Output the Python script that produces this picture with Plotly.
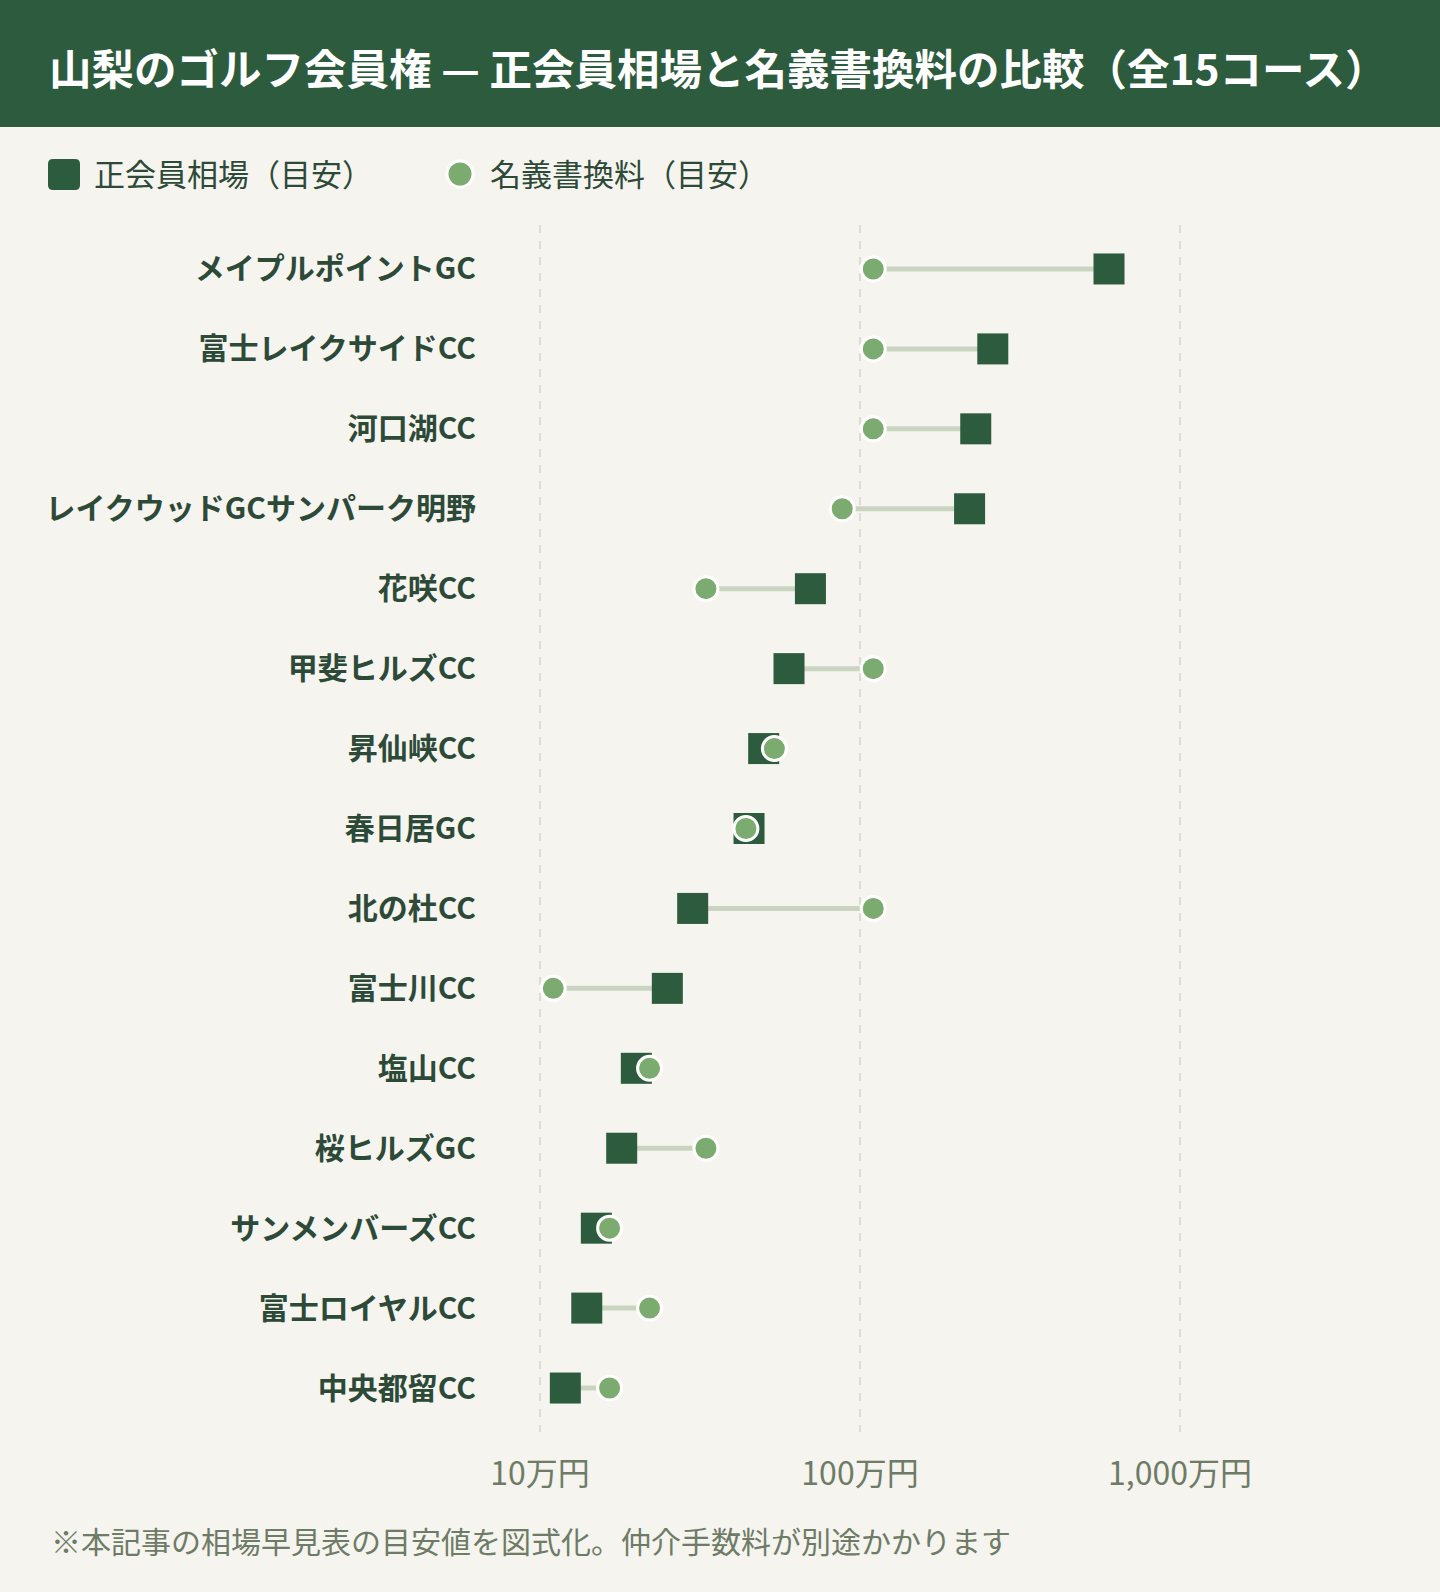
import plotly.graph_objects as go

courses = [
    "メイプルポイントGC", "富士レイクサイドCC", "河口湖CC", "レイクウッドGCサンパーク明野",
    "花咲CC", "甲斐ヒルズCC", "昇仙峡CC", "春日居GC", "北の杜CC", "富士川CC",
    "塩山CC", "桜ヒルズGC", "サンメンバーズCC", "富士ロイヤルCC", "中央都留CC",
]
# 万円
member_price = [600, 260, 230, 220, 70, 60, 50, 45, 30, 25, 20, 18, 15, 14, 12]
transfer_fee = [110, 110, 110, 88, 33, 110, 54, 44, 110, 11, 22, 33, 16.5, 22, 16.5]

tick_vals = [10, 100, 1000]
tick_text = ["10万円", "100万円", "1,000万円"]

legend_labels = ["正会員相場（目安）", "名義書換料（目安）"]
title_text = "山梨のゴルフ会員権 — 正会員相場と名義書換料の比較（全15コース）"
note_text = "※本記事の相場早見表の目安値を図式化。仲介手数料が別途かかります"

DARK = "#2D5B3E"
LIGHT = "#7BAB6E"
LINE = "#C9D5C0"
BG = "#F5F4EE"
LABEL = "#2D4A38"
MUTED = "#6E7B66"
FONT = "Noto Sans CJK JP"

W, H = 1440, 1592
PL, PR, PT, PB = 500, 1400, 225, 1432


def px(x):
    return (x - PL) / (PR - PL)


def py(y):
    return (PB - y) / (PB - PT)


def rounded_rect(x0, y0, x1, y1, r):
    def P(x, y):
        return f"{px(x):.5f},{py(y):.5f}"
    return (f"M {P(x0 + r, y0)} L {P(x1 - r, y0)} Q {P(x1, y0)} {P(x1, y0 + r)} "
            f"L {P(x1, y1 - r)} Q {P(x1, y1)} {P(x1 - r, y1)} L {P(x0 + r, y1)} "
            f"Q {P(x0, y1)} {P(x0, y1 - r)} L {P(x0, y0 + r)} Q {P(x0, y0)} {P(x0 + r, y0)} Z")


fig = go.Figure()

lx, ly = [], []
for c, a, b in zip(courses, member_price, transfer_fee):
    lx += [a, b, None]
    ly += [c, c, None]
fig.add_trace(go.Scatter(x=lx, y=ly, mode="lines", line=dict(color=LINE, width=5),
                         hoverinfo="skip", showlegend=False))
fig.add_trace(go.Scatter(x=member_price, y=courses, mode="markers", name=legend_labels[0],
                         marker=dict(symbol="square", size=31, color=DARK, line=dict(width=0)),
                         showlegend=False))
fig.add_trace(go.Scatter(x=transfer_fee, y=courses, mode="markers", name=legend_labels[1],
                         marker=dict(symbol="circle", size=24, color=LIGHT,
                                     line=dict(width=3, color="white")),
                         showlegend=False))

shapes = [
    dict(type="rect", xref="paper", yref="paper", x0=px(0), x1=px(W), y0=py(0), y1=py(127),
         fillcolor=DARK, line=dict(width=0), layer="below"),
    dict(type="path", xref="paper", yref="paper", path=rounded_rect(48, 159, 80, 190, 5),
         fillcolor=DARK, line=dict(width=0)),
    dict(type="circle", xref="paper", yref="paper", x0=px(447), x1=px(473), y0=py(187), y1=py(161),
         fillcolor=LIGHT, line=dict(width=3, color="white")),
]

annotations = [
    dict(text=f"<b>{title_text}</b>", xref="paper", yref="paper", x=px(47), y=py(66),
         xanchor="left", yanchor="middle", showarrow=False,
         font=dict(family=FONT, size=42.5, color="white")),
    dict(text=legend_labels[0], xref="paper", yref="paper", x=px(92), y=py(173),
         xanchor="left", yanchor="middle", showarrow=False,
         font=dict(family=FONT, size=31, color=LABEL)),
    dict(text=legend_labels[1], xref="paper", yref="paper", x=px(488), y=py(173),
         xanchor="left", yanchor="middle", showarrow=False,
         font=dict(family=FONT, size=31, color=LABEL)),
    dict(text=note_text, xref="paper", yref="paper", x=px(49), y=py(1540),
         xanchor="left", yanchor="middle", showarrow=False,
         font=dict(family=FONT, size=30, color=MUTED)),
]

fig.update_layout(
    width=W, height=H,
    margin=dict(l=PL, r=W - PR, t=PT, b=H - PB, pad=0),
    paper_bgcolor=BG, plot_bgcolor=BG,
    shapes=shapes, annotations=annotations,
    showlegend=False,
    font=dict(family=FONT),
)
fig.update_xaxes(type="log", range=[0.875, 3.6875], tickvals=tick_vals, ticktext=tick_text,
                 showgrid=True, gridcolor="#DCDCD4", gridwidth=2, griddash="8px,8px",
                 zeroline=False, showline=False, ticks="",
                 tickfont=dict(family=FONT, size=32, color=MUTED), ticklabelstandoff=20)
fig.update_yaxes(type="category", categoryarray=courses, range=[14.55, -0.55],
                 showgrid=False, zeroline=False, showline=False, ticks="",
                 tickfont=dict(family=FONT, size=30, color=LABEL, weight="bold"),
                 ticklabelstandoff=23)

fig.write_html("out.html", config={"displayModeBar": False},
               post_script="document.body.style.margin='0';")
